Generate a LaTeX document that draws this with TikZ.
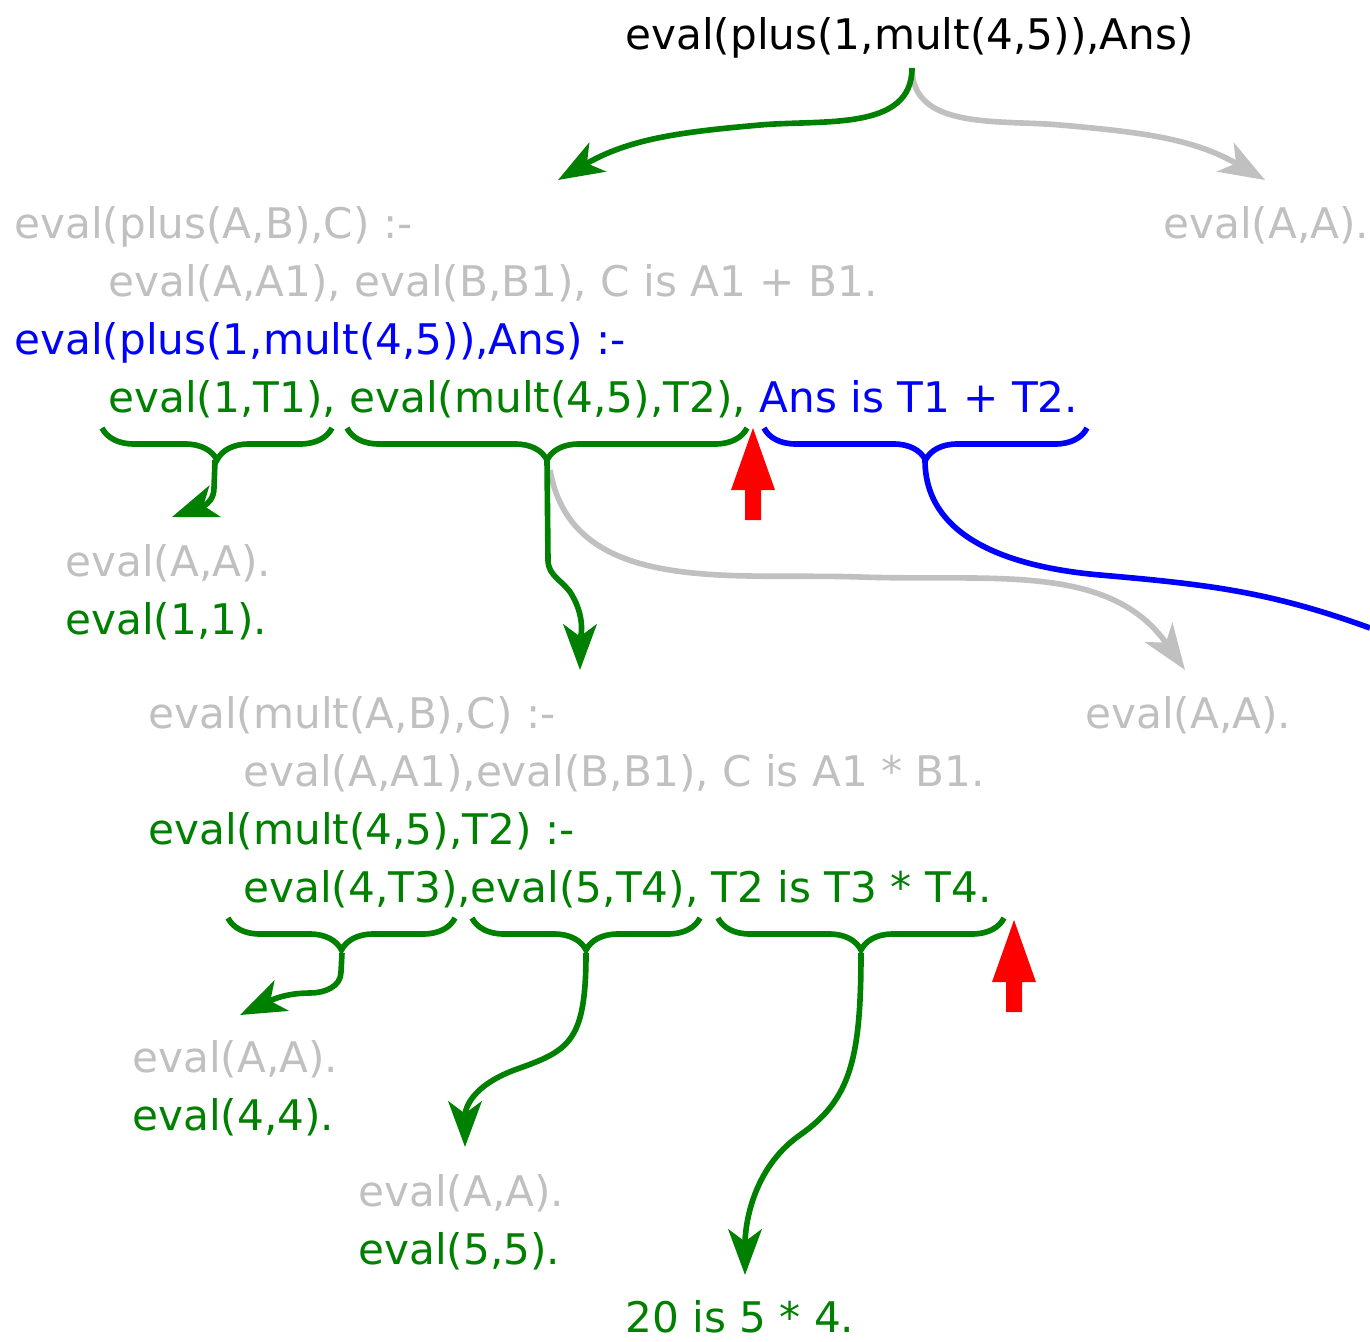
\documentclass[tikz,border=0pt]{standalone}
\usepackage{fontspec}
\setmainfont{DejaVu Sans}
\usetikzlibrary{arrows.meta,decorations.pathreplacing,positioning}
\definecolor{pgreen}{RGB}{0,128,0}
\definecolor{pgray}{RGB}{192,192,192}
\definecolor{pblue}{RGB}{0,0,255}
\definecolor{pred}{RGB}{255,0,0}
\tikzset{
  goal/.style={inner sep=0pt, anchor=base west, font=\fontsize{24}{28}\selectfont},
  link/.style={line width=3.2pt, -{Stealth[length=26pt,width=19pt,inset=7pt]}},
  under/.style={line width=3.2pt, decorate, decoration={brace,mirror,amplitude=0.64cm}},
}
\begin{document}
\begin{tikzpicture}[x=0.02cm,y=-0.02cm]
\useasboundingbox (0,0) rectangle (1370,1342);
% query
\node[goal] (query) at (625,50) {eval(plus(1,mult(4,5)),Ans)};
% first level
\node[goal,pgray] (plusA) at (14,238) {eval(plus(A,B),C) :-};
\node[goal,pgray] (plusB) at (108,296) {eval(A,A1), eval(B,B1), C is A1 + B1.};
\node[goal,pgray] (factA) at (1163,238) {eval(A,A).};
\node[goal,pblue] (plusC) at (14,354) {eval(plus(1,mult(4,5)),Ans) :-};
\node[goal,pblue] (plusD) at (108,412) {\color{pgreen}eval(1,T1), eval(mult(4,5),T2), \color{pblue}Ans is T1 + T2.};
% second level
\node[goal,pgray] (factB) at (65,576) {eval(A,A).};
\node[goal,pgreen] (factC) at (65,634) {eval(1,1).};
\node[goal,pgray] (multA) at (148,728) {eval(mult(A,B),C) :-};
\node[goal,pgray] (multB) at (243,786) {eval(A,A1),eval(B,B1), C is A1 * B1.};
\node[goal,pgray] (factD) at (1085,728) {eval(A,A).};
\node[goal,pgreen] (multC) at (148,844) {eval(mult(4,5),T2) :-};
\node[goal,pgreen] (multD) at (243,902) {eval(4,T3),eval(5,T4), T2 is T3 * T4.};
% third level
\node[goal,pgray] (factE) at (132,1072) {eval(A,A).};
\node[goal,pgreen] (factF) at (132,1130) {eval(4,4).};
\node[goal,pgray] (factG) at (358,1206) {eval(A,A).};
\node[goal,pgreen] (factH) at (358,1264) {eval(5,5).};
\node[goal,pgreen] (isA) at (625,1332) {20 is 5 * 4.};

\coordinate (qtop) at (912,68);
\coordinate (c1) at (215,460);
\coordinate (c2) at (547,460);
\coordinate (c3) at (925,460);
\coordinate (d1) at (342,953);
\coordinate (d2) at (586,953);
\coordinate (d3) at (861,953);

\draw[under,pgreen] (102,428) -- (332,428);
\draw[under,pgreen] (347,428) -- (747,428);
\draw[under,pblue] (764,428) -- (1087,428);
\draw[under,pgreen] (228,918) -- (455,918);
\draw[under,pgreen] (472,918) -- (700,918);
\draw[under,pgreen] (718,918) -- (1004,918);

\draw[link,pgray] (qtop) to[out=-90,in=175] (1060,125) to[out=-5,in=150] (1265,180);
\draw[link,pgreen] (qtop) to[out=-90,in=5] (760,125) to[out=185,in=30] (558,180);

\draw[link,pgreen] (c1) -- (214,488) to[out=-90,in=20] (172,517);
\draw[link,pgray] (550,470) to[out=-80,in=178] (860,577) to[out=-2,in=125] (1185,670);
\draw[link,pgreen] (c2) -- (548,560) to[out=-90,in=120] (572,595) to[out=-60,in=90] (580,670);
\draw[line width=3.2pt,pblue] (c3) to[out=-90,in=175] (1100,575) to[out=-5,in=160] (1370,628);

\draw[link,pgreen] (d1) -- (341,972) to[out=-90,in=0] (310,993) to[out=180,in=25] (240,1015);
\draw[link,pgreen] (d2) .. controls (586,1040) and (570,1050) .. (520,1068) .. controls (470,1085) and (465,1110) .. (465,1147);
\draw[link,pgreen] (d3) .. controls (861,1060) and (850,1100) .. (800,1135) .. controls (750,1170) and (745,1230) .. (745,1275);

\coordinate (stop1) at (753,428);
\coordinate (stop2) at (1014,920);
\fill[pred] (stop1) -- ++(22,62) -- ++(-14,0) -- ++(0,30) -- ++(-16,0) -- ++(0,-30) -- ++(-14,0) -- cycle;
\fill[pred] (stop2) -- ++(22,62) -- ++(-14,0) -- ++(0,30) -- ++(-16,0) -- ++(0,-30) -- ++(-14,0) -- cycle;
\end{tikzpicture}
\end{document}
